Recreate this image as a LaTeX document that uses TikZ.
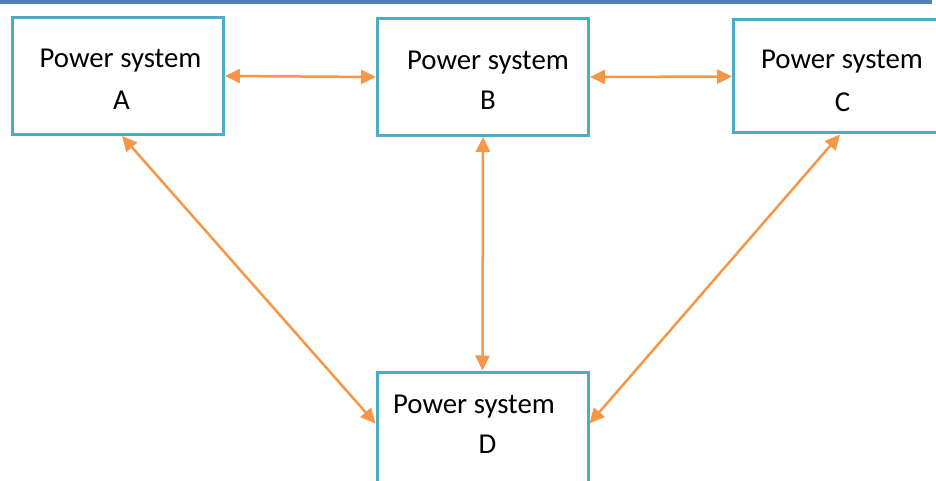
\documentclass[tikz,border=0pt]{standalone}
\usepackage{fontspec}
\setmainfont{Carlito}
\usepackage{tikz}
\usetikzlibrary{arrows.meta}

\definecolor{boxblue}{HTML}{4BACC6}
\definecolor{linkorange}{HTML}{F79646}
\definecolor{rulerblue}{HTML}{4F81BD}

\begin{document}
\begin{tikzpicture}[x=1pt, y=-1pt,
  sysbox/.style={draw=boxblue, line width=3pt, minimum width=211pt, minimum height=117pt, inner sep=0pt},
  systext/.style={anchor=base, font=\fontsize{28.8}{34}\selectfont, inner sep=0pt},
  link/.style={draw=linkorange, line width=2.5pt, {Triangle[length=15pt,width=14pt]}-{Triangle[length=15pt,width=14pt]}}]
\useasboundingbox (0,0) rectangle (936,481);
\clip (0,0) rectangle (936,481);
\draw[rulerblue, line width=3.5pt] (0,2)--(932,2);
\node[sysbox] (A) at (118,76) {};
\node[sysbox] (B) at (483,77) {};
\node[sysbox, minimum height=113pt] (C) at (839,76.5) {};
\node[sysbox, minimum height=160pt] (D) at (482.5,452) {};
\node[systext] (A1) at (120.5,68) {Power system};
\node[systext] (A2) at (121.5,110) {A};
\node[systext] (B1) at (488,70) {Power system};
\node[systext] (B2) at (488,110) {B};
\node[systext] (C1) at (842,69) {Power system};
\node[systext] (C2) at (842.5,112) {C};
\node[systext] (D1) at (474,413) {Power system};
\node[systext] (D2) at (487.5,453) {D};
\draw[link] (A.east)--(B.west);
\draw[link] (B.east)--(C.west);
\draw[link] (B.south)--(D.north);
\draw[link] ([xshift=4pt]A.south)--([yshift=-53pt]D.north west);
\draw[link] ([xshift=1pt]C.south)--([yshift=-53pt]D.north east);
\end{tikzpicture}
\end{document}
